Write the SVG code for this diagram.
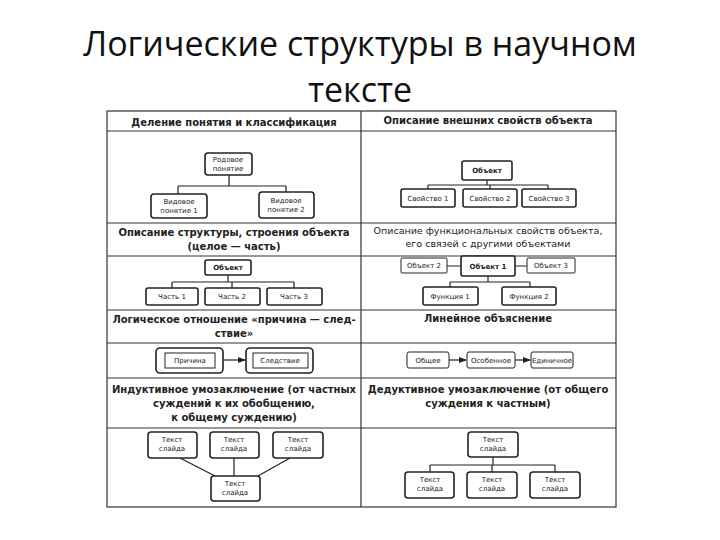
<svg xmlns="http://www.w3.org/2000/svg" width="720" height="540" viewBox="0 0 720 540">
<style>
.t{font-family:"Open Sans","Liberation Sans",sans-serif;font-size:34px;fill:#111;text-anchor:middle}
.h{font-family:"DejaVu Sans",sans-serif;font-size:10px;font-weight:bold;fill:#222;text-anchor:middle}
.hn{font-family:"DejaVu Sans",sans-serif;font-size:9.5px;fill:#222;text-anchor:middle}
.n{font-family:"DejaVu Sans",sans-serif;font-size:7px;fill:#222;text-anchor:middle}
.nb{font-family:"DejaVu Sans",sans-serif;font-size:7px;font-weight:bold;fill:#222;text-anchor:middle}
.b{fill:#fff;stroke:#222;stroke-width:1.6}
.bt{fill:#fff;stroke:#222;stroke-width:1}
.l{stroke:#222;stroke-width:1.2;fill:none}
.g{stroke:#333;stroke-width:1.2;fill:none}
</style>
<defs><marker id="a" markerWidth="8" markerHeight="8" refX="7" refY="4" orient="auto" markerUnits="userSpaceOnUse"><path d="M0,1L8,4L0,7z" fill="#222"/></marker></defs>
<rect width="720" height="540" fill="#fff"/>
<text class="t" x="360" y="56">Логические структуры в научном</text>
<text class="t" x="360" y="102">тексте</text>
<g id="grid">
<rect class="g" x="107" y="111" width="509" height="396" stroke-width="2"/>
<path class="g" d="M361 111V507M107 131H616M107 223H616M107 256H616M107 310H616M107 343H616M107 378H616M107 428H616"/>
</g>
<g id="headings">
<text class="h" x="234" y="126">Деление понятия и классификация</text>
<text class="h" x="488" y="124">Описание внешних свойств объекта</text>
<text class="h" x="234" y="236">Описание структуры, строения объекта</text>
<text class="h" x="234" y="250">(целое — часть)</text>
<text class="hn" x="488" y="234">Описание функциональных свойств объекта,</text>
<text class="hn" x="488" y="247">его связей с другими объектами</text>
<text class="h" x="234" y="323">Логическое отношение «причина — след-</text>
<text class="h" x="234" y="337">ствие»</text>
<text class="h" x="488" y="322">Линейное объяснение</text>
<text class="h" x="234" y="393">Индуктивное умозаключение (от частных</text>
<text class="h" x="234" y="407">суждений к их обобщению,</text>
<text class="h" x="234" y="421">к общему суждению)</text>
<text class="h" x="488" y="393">Дедуктивное умозаключение (от общего</text>
<text class="h" x="488" y="407">суждения к частным)</text>
</g>
<g id="connectors">
<path class="l" d="M229 175V186M178 186H286M178 186V194M286 186V192"/>
<path class="l" d="M487 180V185M428 185H548M428 185V189M490 185V189M548 185V189"/>
<path class="l" d="M228 275V282M172 282H294M172 282V288M232 282V288M294 282V288"/>
<path class="l" d="M447 266H461M515 266H527M488 276V282M450 282H530M450 282V287M530 282V287"/>
<path class="l" d="M223 360H245" marker-end="url(#a)"/>
<path class="l" d="M449 360H466" marker-end="url(#a)"/>
<path class="l" d="M515 360H530" marker-end="url(#a)"/>
<path class="l" d="M180 458L215 476M234 458V476M290 458L258 476"/>
<path class="l" d="M493 457V465M430 465H555M430 465V472M492 465V472M555 465V472"/>
</g>
<g id="n1"><rect class="b" x="205" y="153" width="47" height="22" rx="3"/><text class="n" x="228" y="162">Родовое</text><text class="n" x="228" y="171">понятие</text></g>
<g id="n2"><rect class="b" x="151" y="194" width="56" height="24" rx="3"/><text class="n" x="179" y="204">Видовое</text><text class="n" x="179" y="213">понятие 1</text></g>
<g id="n3"><rect class="b" x="259" y="192" width="55" height="26" rx="3"/><text class="n" x="286" y="203">Видовое</text><text class="n" x="286" y="212">понятие 2</text></g>
<g id="n4"><rect class="b" x="462" y="161" width="50" height="19" rx="2"/><text class="nb" x="487" y="173">Объект</text></g>
<g id="n5"><rect class="b" x="401" y="189" width="54" height="18" rx="2"/><text class="n" x="428" y="201">Свойство 1</text></g>
<g id="n6"><rect class="b" x="463" y="189" width="54" height="18" rx="2"/><text class="n" x="490" y="201">Свойство 2</text></g>
<g id="n7"><rect class="b" x="522" y="189" width="54" height="18" rx="2"/><text class="n" x="549" y="201">Свойство 3</text></g>
<g id="n8"><rect class="b" x="205" y="260" width="46" height="15" rx="2"/><text class="nb" x="228" y="270">Объект</text></g>
<g id="n9"><rect class="b" x="146" y="288" width="52" height="17" rx="2"/><text class="n" x="172" y="299">Часть 1</text></g>
<g id="n10"><rect class="b" x="205" y="288" width="55" height="17" rx="2"/><text class="n" x="232" y="299">Часть 2</text></g>
<g id="n11"><rect class="b" x="267" y="288" width="55" height="17" rx="2"/><text class="n" x="294" y="299">Часть 3</text></g>
<g id="n12"><rect class="bt" x="401" y="258" width="46" height="15" rx="1"/><text class="n" x="424" y="268">Объект 2</text></g>
<g id="n13"><rect class="b" x="461" y="256" width="54" height="20" rx="2"/><text class="nb" x="488" y="269">Объект 1</text></g>
<g id="n14"><rect class="bt" x="527" y="258" width="48" height="15" rx="1"/><text class="n" x="551" y="268">Объект 3</text></g>
<g id="n15"><rect class="b" x="423" y="287" width="55" height="18" rx="2"/><text class="n" x="450" y="299">Функция 1</text></g>
<g id="n16"><rect class="b" x="502" y="287" width="54" height="18" rx="2"/><text class="n" x="529" y="299">Функция 2</text></g>
<g id="n17"><rect class="b" x="156" y="348" width="67" height="25" rx="4"/><rect class="bt" x="165" y="353" width="50" height="15"/><text class="n" x="190" y="363">Причина</text></g>
<g id="n18"><rect class="b" x="246" y="348" width="67" height="25" rx="4"/><rect class="bt" x="253" y="353" width="55" height="15"/><text class="n" x="280" y="363">Следствие</text></g>
<g id="n19"><rect class="bt" x="407" y="352" width="42" height="16" rx="2"/><text class="n" x="428" y="363">Общее</text></g>
<g id="n20"><rect class="bt" x="467" y="352" width="48" height="16" rx="2"/><text class="n" x="491" y="363">Особенное</text></g>
<g id="n21"><rect class="bt" x="531" y="352" width="42" height="16" rx="2"/><text class="n" x="552" y="363" font-size="6.5">Единичное</text></g>
<g id="n22"><rect class="b" x="148" y="432" width="49" height="26" rx="3"/><text class="n" x="172" y="442">Текст</text><text class="n" x="172" y="451">слайда</text></g>
<g id="n23"><rect class="b" x="210" y="432" width="49" height="26" rx="3"/><text class="n" x="234" y="442">Текст</text><text class="n" x="234" y="451">слайда</text></g>
<g id="n24"><rect class="b" x="273" y="432" width="50" height="26" rx="3"/><text class="n" x="298" y="442">Текст</text><text class="n" x="298" y="451">слайда</text></g>
<g id="n25"><rect class="b" x="211" y="476" width="49" height="25" rx="3"/><text class="n" x="235" y="486">Текст</text><text class="n" x="235" y="495">слайда</text></g>
<g id="n26"><rect class="b" x="468" y="432" width="50" height="25" rx="3"/><text class="n" x="493" y="442">Текст</text><text class="n" x="493" y="451">слайда</text></g>
<g id="n27"><rect class="b" x="405" y="472" width="49" height="26" rx="3"/><text class="n" x="430" y="482">Текст</text><text class="n" x="430" y="491">слайда</text></g>
<g id="n28"><rect class="b" x="467" y="472" width="50" height="26" rx="3"/><text class="n" x="492" y="482">Текст</text><text class="n" x="492" y="491">слайда</text></g>
<g id="n29"><rect class="b" x="530" y="472" width="50" height="26" rx="3"/><text class="n" x="555" y="482">Текст</text><text class="n" x="555" y="491">слайда</text></g>
</svg>
